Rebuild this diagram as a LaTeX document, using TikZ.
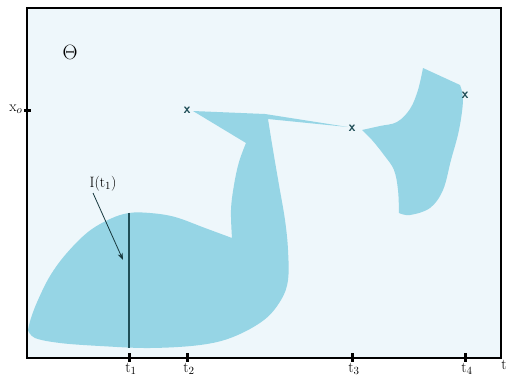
\documentclass[tikz,border=0pt]{standalone}
\usetikzlibrary{arrows.meta}
\definecolor{bgblue}{HTML}{EEF7FB}
\definecolor{shape}{HTML}{96D5E5}
\definecolor{darkteal}{HTML}{1F4E57}
\tikzset{
  frame/.style={line width=2.4pt, black},
  tickmark/.style={line width=3pt, black},
  region/.style={fill=shape, draw=none},
  crossmark/.style={text=darkteal, font=\sffamily\bfseries\fontsize{14}{14}\selectfont, inner sep=0pt},
  axislabel/.style={font=\fontsize{15}{15}\selectfont, inner sep=0pt},
}
\begin{document}
\begin{tikzpicture}[x=1pt,y=-1pt]
\useasboundingbox (0,0) rectangle (507,378);
\fill[white] (0,0) rectangle (507,378);
\fill[bgblue] (27,8) rectangle (501,358);
% main region
\fill[region] plot[smooth, tension=0.6] coordinates {(28,330) (31,318) (38,300) (50,276) (66,254) (88,232) (110,219) (129,213) (150,213) (175,217) (205,228) (232,238)}
  -- plot[smooth, tension=0.6] coordinates {(232,238) (231,210) (234,185) (239,162) (246,143)}
  -- (193,111) -- (265,114) -- (348,127) -- (268,119)
  -- plot[smooth, tension=0.6] coordinates {(268,119) (273,150) (279,185) (285,220) (288,250) (288,280) (281,300) (264,320) (233,337) (200,345) (150,348) (100,346) (60,343) (35,338) (28,330)}
  -- cycle;
% right region
\fill[region] (362,130)
  -- plot[smooth, tension=0.6] coordinates {(362,130) (380,126) (397,122) (410,109) (418,90) (423,68)}
  -- (460,85)
  -- plot[smooth, tension=0.6] coordinates {(460,85) (463,100) (459,130) (451,160) (443,190) (430,208) (410,215) (399,213)}
  -- plot[smooth, tension=0.6] coordinates {(399,213) (398,190) (394,170) (384,155) (372,140) (362,130)}
  -- cycle;
% vertical line I(t1)
\coordinate (ltop) at (129,213);
\coordinate (lbot) at (129,348);
\draw[darkteal, line width=2.6pt] (ltop) -- (lbot);
% frame
\draw[frame] (27,8) rectangle (501,358);
% ticks
\foreach \n/\x in {1/129,2/187,3/352,4/465}{
  \draw[tickmark] (\x,353) -- (\x,362);
  \node[axislabel, anchor=north] (t\n) at (\x+2,363) {t$_{\n}$};
}
\node[axislabel, anchor=east] (tend) at (507,365) {t};
\draw[tickmark] (24,110) -- (31,110);
\node[axislabel] (x0) at (16,109) {x$_{o}$};
% theta
\node[font=\fontsize{21}{21}\selectfont, inner sep=0pt] (theta) at (70,52) {$\Theta$};
% crosses
\node[crossmark] (c1) at (187,110) {x};
\node[crossmark] (c2) at (352,128) {x};
\node[crossmark] (c3) at (465,95) {x};
% label and arrow
\node[axislabel] (lab) at (103,184) {I(t$_{1}$)};
\coordinate (arrtip) at (123,260);
\draw[-{Stealth[length=7pt,width=5pt]}, line width=0.8pt, darkteal!70!black] (93,193) -- (arrtip);
\end{tikzpicture}
\end{document}
